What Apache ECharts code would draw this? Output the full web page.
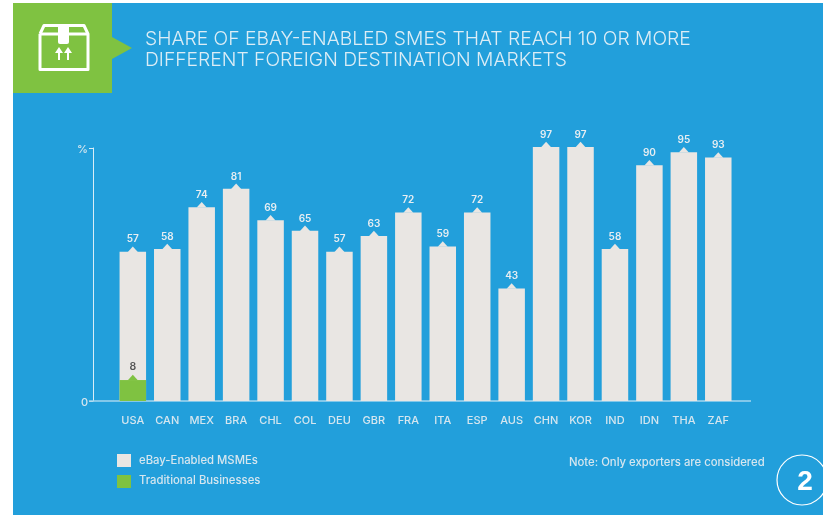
<!DOCTYPE html>
<html><head><meta charset="utf-8">
<style>html,body{margin:0;padding:0;background:#fff}#c{width:823px;height:515px}</style>
<script src="https://cdn.jsdelivr.net/npm/echarts@6/dist/echarts.min.js"></script>
</head><body><div id="c"></div>
<script>
const categories=["USA","CAN","MEX","BRA","CHL","COL","DEU","GBR","FRA","ITA","ESP","AUS","CHN","KOR","IND","IDN","THA","ZAF"];
const msmeValues=[57,58,74,81,69,65,57,63,72,59,72,43,97,97,58,90,95,93];
const traditionalValues=[8,null,null,null,null,null,null,null,null,null,null,null,null,null,null,null,null,null];
const yTicks=[0,96.6];
const titleLines="SHARE OF EBAY-ENABLED SMES THAT REACH 10 OR MORE\nDIFFERENT FOREIGN DESTINATION MARKETS";
const legendNames=["eBay-Enabled MSMEs","Traditional Businesses"];
const note="Note: Only exporters are considered";
const BLUE="#229fdb",GREY="#e9e6e3",GREEN="#7fc241",TXT="#d5e6ef";
const font="Inter";
const small='500 11.3px "Inter"';
const W={stroke:'#fff',lineWidth:3,fill:'none',lineJoin:'round'};
const arrow=(x)=>[[x-4,53],[x,47],[x+4,53],[x+1,53],[x+1,60],[x-1,60],[x-1,53]];
const chart=echarts.init(document.getElementById('c'),null,{renderer:'canvas'});
chart.setOption({
 animation:false,backgroundColor:'#fff',textStyle:{fontFamily:font},
 grid:{left:115.6,width:619.9,top:148,height:253},
 graphic:[
  {type:'rect',z:-10,silent:true,shape:{x:13,y:3,width:810,height:512},style:{fill:BLUE}},
  {type:'rect',z:-9,shape:{x:13,y:3,width:99,height:90},style:{fill:GREEN}},
  {type:'polygon',z:-9,shape:{points:[[112,37],[132,48],[112,59]]},style:{fill:GREEN}},
  {type:'polyline',shape:{points:[[40,34],[44,25.5],[84,25.5],[88,34],[88,69.5],[40,69.5],[40,34]]},style:W},
  {type:'line',shape:{x1:40,y1:34,x2:88,y2:34},style:W},
  {type:'rect',shape:{x:58,y:25,width:11,height:19,r:2},style:{fill:'#fff'}},
  {type:'polygon',shape:{points:arrow(59)},style:{fill:'#fff'}},
  {type:'polygon',shape:{points:arrow(68)},style:{fill:'#fff'}},
  {type:'text',x:145,y:29,style:{text:titleLines,fill:'#dcedf6',font:'300 19.3px "Inter"',lineHeight:21}},
  {type:'line',z:1,shape:{x1:89,y1:401,x2:751,y2:401},style:{stroke:'#a5d6ef',lineWidth:1.5}},
  {type:'rect',shape:{x:117,y:454,width:14,height:13},style:{fill:GREY}},
  {type:'rect',shape:{x:117,y:475,width:14,height:13},style:{fill:GREEN}},
  {type:'text',x:139,y:455,style:{text:legendNames[0],fill:TXT,font:small}},
  {type:'text',x:139,y:475.5,style:{text:legendNames[1],fill:TXT,font:small}},
  {type:'text',x:569,y:457.5,style:{text:note,fill:TXT,font:small}},
  {type:'circle',shape:{cx:802,cy:480,r:25},style:{fill:'none',stroke:'#fff',lineWidth:1.2}},
  {type:'text',x:805,y:482,style:{text:'2',fill:'#fff',font:'bold 28px "Liberation Sans"',align:'center',verticalAlign:'middle'}}
 ],
 xAxis:{type:'category',data:categories,axisTick:{show:false},
  axisLine:{show:false},
  axisLabel:{color:TXT,fontSize:11,fontWeight:500,margin:14,interval:0}},
 yAxis:{type:'value',min:0,max:96.6,offset:22.6,splitLine:{show:false},
  axisLine:{show:true,lineStyle:{color:'#d9edf7'}},
  axisTick:{show:true,length:4,lineStyle:{color:'#d9edf7'},customValues:yTicks},
  axisLabel:{color:TXT,fontSize:11,fontWeight:500,margin:5,verticalAlign:'top',lineHeight:3,customValues:yTicks,formatter:v=>v===0?'0':'%'}},
 series:[
  {name:legendNames[0],type:'bar',data:msmeValues,barWidth:26.5,barGap:'-100%',itemStyle:{color:GREY},clip:false,z:2},
  {name:legendNames[1],type:'bar',data:traditionalValues,barWidth:26.5,barGap:'-100%',itemStyle:{color:GREEN},z:3},
  {type:'scatter',data:msmeValues,symbol:'triangle',symbolSize:[10,5.5],symbolOffset:[0,-2.5],clip:false,z:3,itemStyle:{color:GREY,opacity:1},
   label:{show:true,position:'top',distance:2,color:'#e8eef2',fontSize:10,fontWeight:600}},
  {type:'scatter',data:traditionalValues,symbol:'triangle',symbolSize:[10,5.5],symbolOffset:[0,-2.5],z:4,itemStyle:{color:GREEN,opacity:1},
   label:{show:true,position:'top',distance:2.5,color:'#555',fontSize:10.5,fontWeight:600}}
 ]
});
</script></body></html>
